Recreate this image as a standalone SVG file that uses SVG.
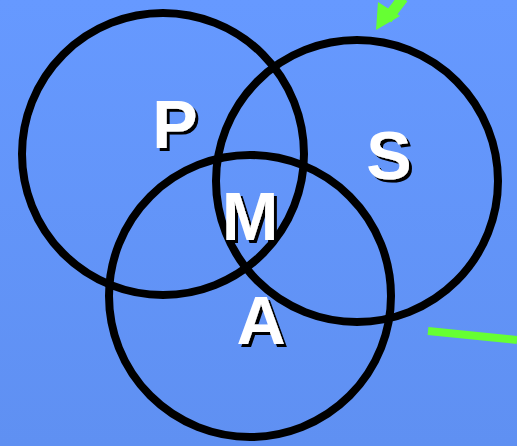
<svg xmlns="http://www.w3.org/2000/svg" width="517" height="446" viewBox="0 0 517 446">
<style>
.c{fill:none;stroke:#000;stroke-width:8}
.t{font-family:"Liberation Sans",Arial,sans-serif;font-weight:bold;font-size:68px;text-anchor:middle;fill:#fff;filter:url(#sh)}
.g{stroke:#66ff33;fill:#66ff33}
</style>
<defs>
<linearGradient id="bg" x1="0" y1="0" x2="0" y2="1">
<stop offset="0" stop-color="#6699ff"/>
<stop offset="1" stop-color="#5f90f2"/>
</linearGradient>
<filter id="sh" x="-20%" y="-20%" width="140%" height="140%">
<feDropShadow dx="3" dy="3" stdDeviation="0.3" flood-color="#000" flood-opacity="1"/>
</filter>
</defs>
<rect width="517" height="446" fill="url(#bg)"/>
<g id="connectors">
<line class="g" x1="387" y1="19" x2="403" y2="-2" stroke-width="11"/>
<polygon class="g" points="376,30 378,2 400,16" stroke-width="0"/>
<line class="g" x1="428" y1="331" x2="517" y2="340" stroke-width="8"/>
</g>
<g id="circle-P"><circle class="c" cx="163" cy="154" r="141"/></g>
<g id="circle-S"><circle class="c" cx="357" cy="181" r="141"/></g>
<g id="circle-A"><circle class="c" cx="250" cy="296" r="141"/></g>
<g id="label-P"><text class="t" x="175" y="148">P</text></g>
<g id="label-S"><text class="t" x="389" y="179">S</text></g>
<g id="label-M"><text class="t" x="250" y="240">M</text></g>
<g id="label-A"><text class="t" x="261" y="344">A</text></g>
</svg>
